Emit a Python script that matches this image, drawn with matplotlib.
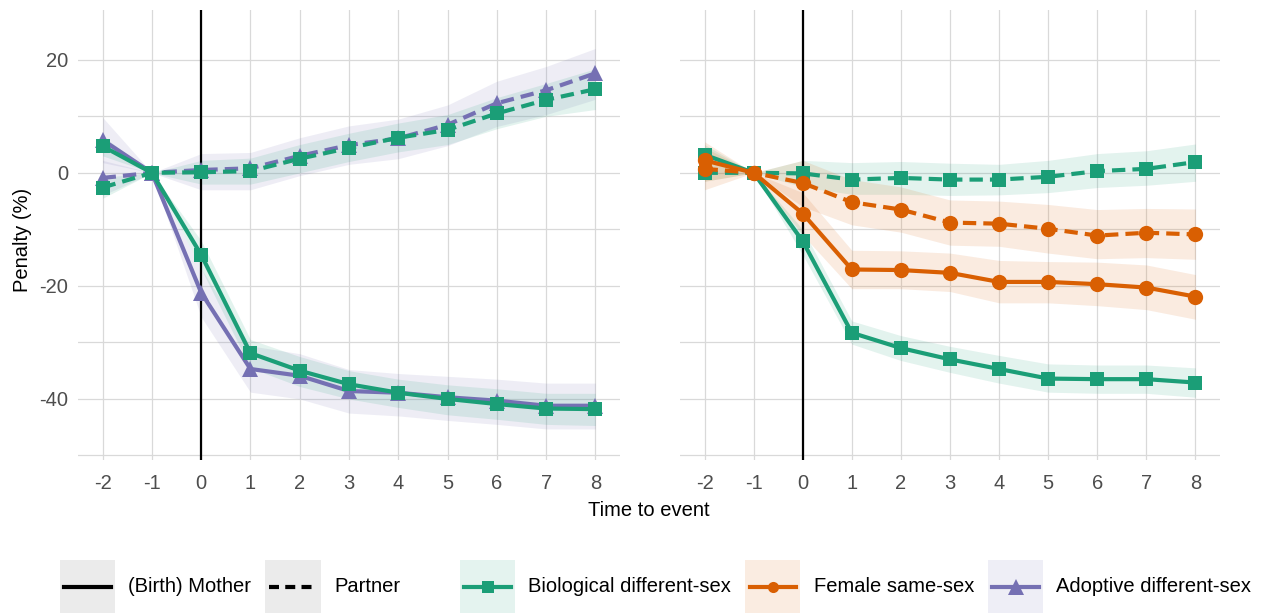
import matplotlib
matplotlib.use("Agg")
import matplotlib.pyplot as plt
from matplotlib.lines import Line2D
from matplotlib.patches import Rectangle
import numpy as np

plt.rcParams['font.family'] = ['Liberation Sans', 'DejaVu Sans']
plt.rcParams['axes.unicode_minus'] = False

# ---------------- data ----------------
time = [-2, -1, 0, 1, 2, 3, 4, 5, 6, 7, 8]
x_ticks = [-2, -1, 0, 1, 2, 3, 4, 5, 6, 7, 8]
y_ticks = [20, 0, -20, -40]
y_minor = [10, -10, -30, -50]

# left panel
L_bio_mother = [4.7, 0, -14.5, -31.9, -35.0, -37.4, -38.9, -40.0, -40.9, -41.7, -41.8]
L_bio_mother_lo = [3.0, 0, -17.0, -34.5, -37.8, -40.0, -41.5, -42.8, -43.6, -44.5, -44.7]
L_bio_mother_hi = [6.5, 0, -12.0, -29.5, -32.5, -35.0, -36.5, -37.5, -38.2, -39.0, -39.0]
L_ado_mother = [5.8, 0, -21.2, -34.7, -35.9, -38.6, -38.9, -39.7, -40.3, -41.2, -41.2]
L_ado_mother_lo = [1.8, 0, -25.5, -38.8, -40.0, -42.5, -43.0, -43.8, -44.5, -45.3, -45.3]
L_ado_mother_hi = [9.8, 0, -17.0, -30.6, -32.0, -34.8, -35.5, -36.0, -36.5, -37.2, -37.2]
L_bio_partner = [-2.6, 0, 0.1, 0.3, 2.5, 4.4, 6.2, 7.6, 10.5, 12.9, 14.8]
L_bio_partner_lo = [-4.5, 0, -2.0, -2.0, 0.0, 2.0, 3.7, 5.0, 7.8, 10.0, 11.2]
L_bio_partner_hi = [-0.8, 0, 2.2, 2.6, 5.0, 7.0, 8.8, 10.3, 13.3, 15.8, 18.4]
L_ado_partner = [-0.9, 0, 0.5, 0.8, 3.0, 4.9, 6.1, 8.5, 12.3, 14.6, 17.6]
L_ado_partner_lo = [-4.0, 0, -3.0, -3.0, -0.5, 1.5, 2.5, 4.8, 8.2, 10.3, 13.0]
L_ado_partner_hi = [2.2, 0, 3.4, 3.6, 6.2, 8.3, 9.5, 12.0, 16.2, 18.8, 22.0]

# right panel
R_bio_mother = [3.2, 0, -12.1, -28.3, -31.0, -33.0, -34.7, -36.4, -36.5, -36.5, -37.1]
R_bio_mother_lo = [1.5, 0, -14.5, -30.3, -33.2, -35.3, -37.2, -38.8, -39.0, -39.0, -39.7]
R_bio_mother_hi = [5.0, 0, -10.0, -26.2, -28.8, -30.7, -32.3, -33.8, -34.0, -34.0, -34.5]
R_bio_partner = [0.0, 0, -0.1, -1.2, -0.9, -1.2, -1.2, -0.7, 0.3, 0.7, 1.9]
R_bio_partner_lo = [-1.5, 0, -2.5, -3.8, -3.8, -4.0, -3.9, -3.5, -2.6, -2.2, -1.5]
R_bio_partner_hi = [1.5, 0, 2.2, 1.8, 2.0, 1.7, 1.5, 2.2, 3.4, 3.9, 5.1]
R_fem_mother = [2.2, 0, -7.2, -17.1, -17.2, -17.7, -19.3, -19.3, -19.7, -20.3, -21.9]
R_fem_mother_lo = [-1.5, 0, -11.0, -20.5, -20.5, -21.0, -23.0, -23.0, -23.5, -24.2, -25.9]
R_fem_mother_hi = [5.5, 0, -3.5, -13.7, -13.8, -14.2, -15.5, -15.7, -15.8, -16.3, -18.0]
R_fem_partner = [0.7, 0, -1.8, -5.2, -6.5, -8.8, -9.0, -9.9, -11.1, -10.6, -10.9]
R_fem_partner_lo = [-3.0, 0, -6.0, -9.2, -10.5, -12.8, -13.0, -14.2, -15.2, -15.0, -15.3]
R_fem_partner_hi = [4.5, 0, 2.2, -1.2, -2.5, -4.8, -5.0, -5.6, -6.5, -6.3, -6.4]

legend_linetype = ["(Birth) Mother", "Partner"]
legend_groups = ["Biological different-sex", "Female same-sex", "Adoptive different-sex"]

# ---------------- style ----------------
GREEN = "#1B9E77"
ORANGE = "#D95F02"
PURPLE = "#7570B3"
GRID = "#D9D9D9"
RIB_ALPHA = 0.12
LW = 3.0
DASH = (3.2, 1.7)
MS = {"s": 10.5, "o": 11, "^": 11.5}
KEY_MS = {"s": 8.5, "o": 8.0, "^": 12.0}

W, H = 1261, 613
fig = plt.figure(figsize=(W / 100, H / 100), dpi=100)

def px(x0, y0, x1, y1):
    return [x0 / W, 1 - y1 / H, (x1 - x0) / W, (y1 - y0) / H]

axL = fig.add_axes(px(78, 10, 620, 460))
axR = fig.add_axes(px(680, 10, 1220, 460))


def series(ax, y, lo, hi, color, marker, dashed, z):
    ax.fill_between(time, lo, hi, color=color, alpha=RIB_ALPHA, lw=0, zorder=z)
    ln, = ax.plot(time, y, color=color, lw=LW, marker=marker, ms=MS[marker],
                  mew=0, zorder=z + 10)
    if dashed:
        ln.set_dashes(DASH)
    return ln

for ax in (axL, axR):
    ax.set_xlim(-2.5, 8.5)
    ax.set_ylim(-50.8, 28.8)
    ax.set_xticks(x_ticks)
    ax.set_xticklabels([str(v) for v in x_ticks])
    ax.set_yticks(y_ticks)
    ax.set_yticklabels([str(v) for v in y_ticks])
    ax.set_yticks(y_minor, minor=True)
    ax.grid(True, which="both", color=GRID, lw=0.9, zorder=0)
    ax.set_axisbelow(True)
    for s in ax.spines.values():
        s.set_visible(False)
    ax.tick_params(which="both", length=0, labelsize=14.5, labelcolor="#4D4D4D")
    ax.tick_params(axis="x", pad=10)
    ax.tick_params(axis="y", pad=7)
    ax.axvline(0, color="black", lw=1.6, zorder=5)

axR.set_yticklabels([])

# left panel: purple below green
series(axL, L_ado_mother, L_ado_mother_lo, L_ado_mother_hi, PURPLE, "^", False, 2)
series(axL, L_ado_partner, L_ado_partner_lo, L_ado_partner_hi, PURPLE, "^", True, 2)
series(axL, L_bio_mother, L_bio_mother_lo, L_bio_mother_hi, GREEN, "s", False, 3)
series(axL, L_bio_partner, L_bio_partner_lo, L_bio_partner_hi, GREEN, "s", True, 3)

# right panel: green below orange
series(axR, R_bio_mother, R_bio_mother_lo, R_bio_mother_hi, GREEN, "s", False, 2)
series(axR, R_bio_partner, R_bio_partner_lo, R_bio_partner_hi, GREEN, "s", True, 2)
series(axR, R_fem_mother, R_fem_mother_lo, R_fem_mother_hi, ORANGE, "o", False, 3)
series(axR, R_fem_partner, R_fem_partner_lo, R_fem_partner_hi, ORANGE, "o", True, 3)

fig.text(23 / W, 1 - 240 / H, "Penalty (%)", rotation=90, ha="center", va="center",
         fontsize=14.5, color="black")
fig.text(649 / W, 1 - 510 / H, "Time to event", ha="center", va="center",
         fontsize=14.5, color="black")

# ---------------- legend ----------------
def key_box(x0, x1, face):
    fig.patches.append(Rectangle((x0 / W, 1 - 613 / H), (x1 - x0) / W, 53 / H,
                                 transform=fig.transFigure, facecolor=face,
                                 edgecolor="none", zorder=1))

def key_line(x0, x1, color, dashed=False, marker=None):
    yc = 1 - 587 / H
    ln = Line2D([x0 / W, x1 / W], [yc, yc],
                transform=fig.transFigure, color=color, lw=LW, zorder=2)
    if dashed:
        ln.set_dashes((2.4, 1.5))
    fig.lines.append(ln)
    if marker:
        mk = Line2D([(x0 + x1) / 2 / W], [yc], transform=fig.transFigure,
                    color=color, marker=marker, ms=KEY_MS[marker], mew=0,
                    lw=0, zorder=3)
        fig.lines.append(mk)

def key_text(x, s):
    fig.text(x / W, 1 - 587 / H, s, ha="left", va="center", fontsize=14.5,
             color="black")

def tint(c, a=RIB_ALPHA):
    rgb = np.array(matplotlib.colors.to_rgb(c))
    return tuple(1 - a * (1 - rgb))

key_box(60, 115, "#EBEBEB"); key_line(64, 111, "black")
key_text(128, legend_linetype[0])
key_box(265, 321, "#EBEBEB"); key_line(269, 317, "black", dashed=True)
key_text(334, legend_linetype[1])

key_box(460, 515, tint(GREEN)); key_line(464, 511, GREEN, marker="s")
key_text(528, legend_groups[0])
key_box(745, 800, tint(ORANGE)); key_line(750, 796, ORANGE, marker="o")
key_text(814, legend_groups[1])
key_box(988, 1043, tint(PURPLE)); key_line(992, 1039, PURPLE, marker="^")
key_text(1056, legend_groups[2])

fig.savefig("out.png", dpi=100)
